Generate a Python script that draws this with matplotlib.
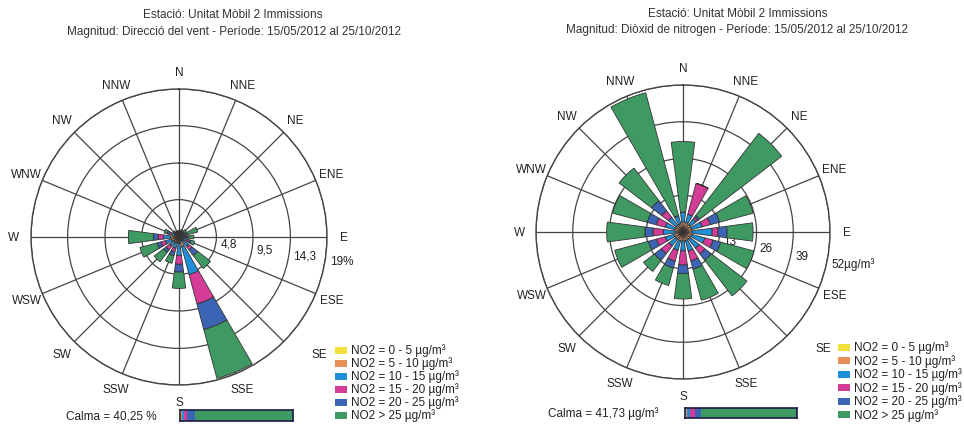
import numpy as np
import matplotlib
matplotlib.use('Agg')
import matplotlib.pyplot as plt

plt.rcParams['font.family'] = ['Liberation Sans', 'DejaVu Sans']

directions = ['N', 'NNE', 'NE', 'ENE', 'E', 'ESE', 'SE', 'SSE',
              'S', 'SSW', 'SW', 'WSW', 'W', 'WNW', 'NW', 'NNW']
classes = ['NO2 = 0 - 5 µg/m³', 'NO2 = 5 - 10 µg/m³', 'NO2 = 10 - 15 µg/m³',
           'NO2 = 15 - 20 µg/m³', 'NO2 = 20 - 25 µg/m³', 'NO2 > 25 µg/m³']
colors = ['#f2e03c', '#e8905a', '#1e8fd8', '#d43c98', '#3c64b4', '#3e9a62']

# left rose: wind direction frequency (%) split by NO2 class
wind_c1 = [0.1, 0.1, 0.1, 0.1, 0.1, 0.1, 0.2, 0.4, 0.2, 0.2, 0.2, 0.2, 0.2, 0.1, 0.1, 0.1]
wind_c2 = [0.3, 0.3, 0.3, 0.3, 0.3, 0.3, 0.4, 0.9, 0.6, 0.6, 0.6, 0.8, 0.9, 0.4, 0.3, 0.3]
wind_c3 = [0.2, 0.2, 0.3, 0.3, 0.4, 0.6, 1.0, 3.7, 1.6, 0.7, 0.7, 0.8, 0.9, 0.5, 0.3, 0.2]
wind_c4 = [0.1, 0.1, 0.1, 0.2, 0.2, 0.3, 0.5, 3.9, 1.1, 0.5, 0.6, 0.6, 0.7, 0.3, 0.1, 0.1]
wind_c5 = [0.1, 0.1, 0.1, 0.2, 0.2, 0.3, 0.9, 3.4, 1.0, 0.5, 0.4, 0.5, 0.6, 0.3, 0.1, 0.1]
wind_c6 = [0.0, 0.2, 0.3, 1.4, 0.7, 0.5, 2.1, 6.5, 2.1, 1.0, 1.5, 2.3, 3.2, 0.4, 0.1, 0.0]
wind_rings = [4.8, 9.5, 14.3, 19]
wind_ring_labels = ['4,8', '9,5', '14,3', '19%']
wind_calm = [0.6, 0.9, 2.0, 2.4, 7.0, 87.1]

# right rose: NO2 (µg/m³) by direction split by NO2 class
no2_c1 = [0.8, 0.8, 0.8, 0.8, 0.8, 0.8, 0.8, 0.8, 0.8, 0.8, 0.8, 0.8, 0.8, 0.8, 0.8, 0.8]
no2_c2 = [2.7, 2.7, 2.5, 2.4, 2.4, 2.4, 2.4, 2.4, 2.4, 2.4, 2.4, 2.4, 2.0, 2.2, 2.2, 2.2]
no2_c3 = [3.5, 3.0, 2.5, 3.8, 7.1, 4.8, 4.0, 3.8, 3.5, 3.5, 3.0, 3.3, 4.2, 3.5, 3.5, 3.0]
no2_c4 = [0.0, 11.3, 0.8, 3.0, 2.1, 3.0, 2.6, 3.6, 5.0, 4.0, 3.5, 3.2, 3.6, 3.3, 3.0, 0.0]
no2_c5 = [0.0, 0.0, 0.8, 3.4, 3.2, 2.8, 2.8, 3.0, 3.0, 2.5, 3.0, 3.0, 2.9, 3.3, 4.5, 0.0]
no2_c6 = [25.0, 0.0, 36.6, 12.3, 9.2, 12.2, 15.9, 11.4, 9.0, 6.4, 4.9, 12.3, 13.5, 12.7, 14.5, 45.0]
no2_rings = [13, 26, 39, 52]
no2_ring_labels = ['13', '26', '39', '52µg/m³']
no2_calm = [0.6, 0.9, 3.0, 4.0, 6.0, 85.5]

W, H = 964, 439
FS = 8.5
fig = plt.figure(figsize=(9.64, 4.39), dpi=100)
fig.patch.set_facecolor('white')


def rose(rect, series, rings, ring_labels, lab_ang):
    ax = fig.add_axes(rect, projection='polar')
    ax.set_theta_zero_location('N')
    ax.set_theta_direction(-1)
    theta = np.deg2rad(np.arange(16) * 22.5)
    width = np.deg2rad(15)
    bottom = np.zeros(16)
    for vals, c in zip(series, colors):
        vals = np.array(vals)
        ax.bar(theta, vals, width=width, bottom=bottom, color=c,
               edgecolor='#333333', linewidth=0.6, zorder=3)
        bottom = bottom + vals
    rmax = rings[-1]
    ax.set_ylim(0, rmax)
    ax.set_xticks(theta)
    ax.set_xticklabels([])
    ax.set_yticks(rings)
    ax.set_yticklabels([])
    ax.grid(True, color='#444444', linewidth=0.9)
    ax.set_axisbelow(True)
    ax.spines['polar'].set_color('#444444')
    ax.spines['polar'].set_linewidth(1.0)
    for t, name in zip(theta, directions):
        # the SE label sits a little further right in the original
        dx = 24 if name == 'SE' else 0
        ax.annotate(name, (t, rmax * 1.115), xytext=(dx * 0.72, 0),
                    textcoords='offset points', ha='center', va='center',
                    fontsize=FS, color='#222222', annotation_clip=False)
    for r, s in zip(rings, ring_labels):
        ax.text(np.deg2rad(lab_ang), r + rmax * 0.03, s, ha='left', va='center',
                fontsize=FS, color='#222222', zorder=1, clip_on=False)
    return ax


rose([31 / W, 53 / H, 296 / W, 296 / H],
     [wind_c1, wind_c2, wind_c3, wind_c4, wind_c5, wind_c6],
     wind_rings, wind_ring_labels, 99)
rose([536 / W, 59 / H, 294 / W, 294 / H],
     [no2_c1, no2_c2, no2_c3, no2_c4, no2_c5, no2_c6],
     no2_rings, no2_ring_labels, 102)

# titles
fig.text(233 / W, 1 - 15 / H, 'Estació: Unitat Mòbil 2 Immissions',
         ha='center', va='center', fontsize=FS, color='#333333')
fig.text(234 / W, 1 - 32 / H, 'Magnitud: Direcció del vent - Període: 15/05/2012 al 25/10/2012',
         ha='center', va='center', fontsize=FS, color='#333333')
fig.text(738 / W, 1 - 14 / H, 'Estació: Unitat Mòbil 2 Immissions',
         ha='center', va='center', fontsize=FS, color='#333333')
fig.text(737 / W, 1 - 30 / H, 'Magnitud: Diòxid de nitrogen - Període: 15/05/2012 al 25/10/2012',
         ha='center', va='center', fontsize=FS, color='#333333')


def legend(x0, y0, step):
    for i, (lab, c) in enumerate(zip(classes, colors)):
        y = y0 + i * step
        fig.patches.append(plt.Rectangle((x0 / W, 1 - (y + 3.5) / H), 12 / W, 7 / H,
                                         transform=fig.transFigure, facecolor=c,
                                         edgecolor='none'))
        fig.text((x0 + 16) / W, 1 - y / H, lab, ha='left', va='center',
                 fontsize=FS, color='#222222')


legend(335, 351, 13)
legend(838, 348, 13.5)


def calm_bar(rect, shares, text, tx):
    ax = fig.add_axes(rect)
    left = 0
    for v, c in zip(shares, colors):
        ax.barh(0, v, left=left, height=1, color=c, edgecolor='none')
        left += v
    ax.set_xlim(0, 100)
    ax.set_ylim(-0.5, 0.5)
    ax.set_xticks([])
    ax.set_yticks([])
    for s in ax.spines.values():
        s.set_color('#1a1a40')
        s.set_linewidth(1.2)
    yc = rect[1] + rect[3] / 2
    fig.text(tx, yc, text, ha='right', va='center', fontsize=FS, color='#222222')


calm_bar([180 / W, 1 - 422 / H, 113 / W, 11 / H], wind_calm, 'Calma = 40,25 %', 157 / W)
calm_bar([685 / W, 1 - 419 / H, 112 / W, 10 / H], no2_calm, 'Calma = 41,73 µg/m³', 658 / W)

plt.savefig('out.png', dpi=100, facecolor='white')
